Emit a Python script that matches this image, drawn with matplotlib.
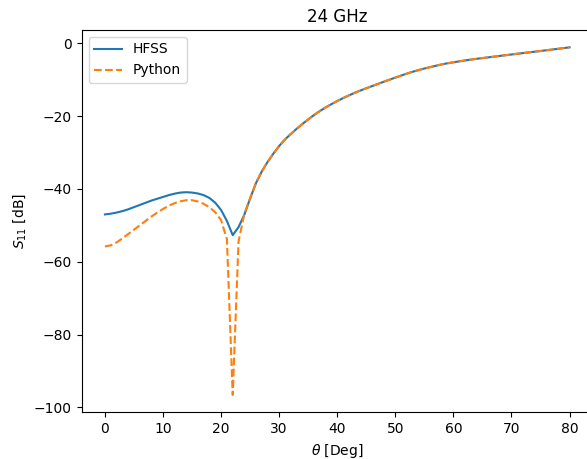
"""
S11 vs incidence angle at 24 GHz: HFSS against the Python model.
"""

import numpy as np
import matplotlib
matplotlib.use("Agg")
import matplotlib.pyplot as plt

theta_deg = list(range(0, 81))

s11_hfss = [
    -47.0, -46.8, -46.5, -46.1, -45.6, -45.0, -44.4, -43.8, -43.2, -42.7,
    -42.2, -41.7, -41.3, -41.0, -40.9, -41.0, -41.25, -41.7, -42.5, -43.8,
    -45.8, -48.8, -52.7, -50.5, -47.1, -42.6, -38.4, -35.2, -32.6, -30.3,
    -28.2, -26.4, -24.9, -23.5, -22.15, -20.9, -19.7, -18.6, -17.6, -16.7,
    -15.85, -15.05, -14.3, -13.6, -12.95, -12.33, -11.75, -11.15, -10.56, -9.98,
    -9.41, -8.85, -8.3, -7.8, -7.34, -6.92, -6.53, -6.15, -5.78, -5.47,
    -5.2, -4.95, -4.7, -4.46, -4.25, -4.05, -3.85, -3.65, -3.45, -3.25,
    -3.06, -2.86, -2.67, -2.48, -2.29, -2.1, -1.9, -1.7, -1.5, -1.3,
    -1.1,
]

s11_python = [
    -55.8, -55.5, -54.7, -53.6, -52.4, -51.2, -50.0, -48.8, -47.6, -46.5,
    -45.5, -44.6, -43.9, -43.4, -43.1, -43.1, -43.45, -44.1, -45.05, -46.4,
    -48.6, -53.8, -96.6, -54.5, -46.8, -42.6, -38.4, -35.2, -32.6, -30.3,
    -28.2, -26.4, -24.9, -23.5, -22.15, -20.9, -19.7, -18.6, -17.6, -16.7,
    -15.85, -15.05, -14.3, -13.6, -12.95, -12.33, -11.75, -11.15, -10.56, -9.98,
    -9.41, -8.85, -8.3, -7.8, -7.34, -6.92, -6.53, -6.15, -5.78, -5.47,
    -5.2, -4.95, -4.7, -4.46, -4.25, -4.05, -3.85, -3.65, -3.45, -3.25,
    -3.06, -2.86, -2.67, -2.48, -2.29, -2.1, -1.9, -1.7, -1.5, -1.3,
    -1.1,
]

fig = plt.figure(figsize=(5.87, 4.59), dpi=100)
ax = fig.add_axes([0.1392, 0.1017, 0.8707, 0.833])

ax.plot(theta_deg, s11_hfss, label="HFSS")
ax.plot(theta_deg, s11_python, "--", label="Python")

ax.set_xlabel(r"$\theta$ [Deg]")
ax.set_ylabel(r"$S_{11}$ [dB]")
ax.set_title("24 GHz")
ax.set_xticks(np.arange(0, 81, 10))
ax.legend(loc="upper left")

fig.savefig("out.png", dpi=100)
